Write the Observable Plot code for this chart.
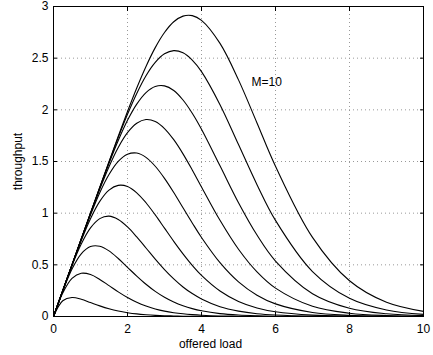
<!DOCTYPE html>
<html><head><meta charset="utf-8">
<script src="https://cdn.jsdelivr.net/npm/d3@7"></script>
<script src="https://cdn.jsdelivr.net/npm/@observablehq/plot@0.6"></script>
<style>body{margin:0;background:#fff}</style>
</head><body><div id="chart"></div>
<script>
// offered load sample points
const loads = [0,0.25,0.5,0.75,1,1.25,1.5,1.75,2,2.25,2.5,2.75,3,3.25,3.5,3.75,4,4.5,5,5.5,6,7,8,9,10];
// throughput read for each curve M=1..10
const m1  = [0,0.152,0.184,0.167,0.135,0.103,0.075,0.053,0.037,0.025,0.017,0.011,0.007,0.005,0.003,0.002,0.001,0,0,0,0,0,0,0,0];
const m2  = [0,0.227,0.368,0.418,0.406,0.359,0.299,0.238,0.183,0.137,0.101,0.073,0.052,0.037,0.026,0.018,0.012,0.005,0.003,0.001,0,0,0,0,0];
const m3  = [0,0.246,0.460,0.607,0.677,0.680,0.635,0.561,0.476,0.391,0.312,0.243,0.186,0.140,0.104,0.076,0.055,0.028,0.014,0.007,0.003,0.001,0,0,0];
const m4  = [0,0.250,0.491,0.701,0.857,0.947,0.971,0.939,0.867,0.770,0.663,0.555,0.454,0.364,0.286,0.222,0.170,0.095,0.052,0.027,0.014,0.003,0.001,0,0];
const m5  = [0,0.250,0.498,0.736,0.947,1.114,1.223,1.269,1.258,1.197,1.101,0.983,0.855,0.727,0.606,0.495,0.398,0.247,0.146,0.083,0.046,0.013,0.003,0.001,0];
const m6  = [0,0.250,0.500,0.747,0.983,1.198,1.374,1.501,1.570,1.582,1.540,1.454,1.337,1.200,1.052,0.905,0.765,0.521,0.335,0.206,0.122,0.039,0.011,0.003,0.001];
const m7  = [0,0.250,0.500,0.749,0.996,1.232,1.450,1.636,1.779,1.870,1.906,1.887,1.819,1.711,1.574,1.418,1.254,0.931,0.651,0.432,0.275,0.099,0.032,0.009,0.003];
const m8  = [0,0.250,0.500,0.750,0.999,1.245,1.482,1.703,1.898,2.055,2.167,2.226,2.232,2.187,2.095,1.967,1.812,1.458,1.101,0.788,0.537,0.221,0.080,0.026,0.008];
const m9  = [0,0.250,0.500,0.750,1.000,1.249,1.494,1.733,1.957,2.159,2.330,2.459,2.542,2.573,2.552,2.482,2.370,2.050,1.664,1.276,0.930,0.435,0.176,0.063,0.021];
const m10 = [0,0.250,0.500,0.750,1.000,1.250,1.498,1.744,1.984,2.212,2.420,2.602,2.748,2.852,2.907,2.912,2.866,2.643,2.290,1.873,1.454,0.766,0.346,0.138,0.050];
const xTicks = [0,2,4,6,8,10];
const yTicks = [0,0.5,1,1.5,2,2.5,3];
const annotations = [{text:"M=10", x:5.35, y:2.27}];

const series = [m1,m2,m3,m4,m5,m6,m7,m8,m9,m10];
const data = series.flatMap((vals,i)=>vals.map((v,j)=>({x:loads[j], y:v, m:i+1})));
const font = '"Liberation Sans", Arial, Helvetica, sans-serif';
const fmt = d => String(d);
const chart = Plot.plot({
  width:433, height:355,
  marginLeft:53, marginRight:10, marginTop:6, marginBottom:39,
  style:{fontFamily:font, fontSize:"12px", color:"black", background:"white"},
  x:{domain:[0,10], ticks:xTicks, label:null},
  y:{domain:[0,3], ticks:yTicks, label:null},
  marks:[
    Plot.gridX(xTicks.slice(1,-1), {stroke:"#999", strokeOpacity:1, strokeDasharray:"1,3"}),
    Plot.gridY(yTicks.slice(1,-1), {stroke:"#999", strokeOpacity:1, strokeDasharray:"1,3"}),
    Plot.axisX(xTicks, {anchor:"bottom", tickSize:-4, tickPadding:12, tickFormat:fmt, label:null}),
    Plot.axisX(xTicks, {anchor:"top", tickSize:-4, tickFormat:()=>""}),
    Plot.axisY(yTicks, {anchor:"left", tickSize:-4, tickPadding:9, tickFormat:fmt, label:"throughput", labelAnchor:"center", labelOffset:40, labelArrow:"none"}),
    Plot.axisY(yTicks, {anchor:"right", tickSize:-4, tickFormat:()=>""}),
    Plot.line(data, {x:"x", y:"y", z:"m", stroke:"black", strokeWidth:1.1, curve:"catmull-rom"}),
    Plot.frame({stroke:"black", strokeWidth:1}),
    Plot.text(annotations, {x:"x", y:"y", text:"text", textAnchor:"start", fontSize:12}),
    Plot.text(["offered load"], {frameAnchor:"bottom", dx:-28, dy:31, fontSize:12, text:d=>d})
  ]
});
document.getElementById("chart").append(chart);
</script>
</body></html>
